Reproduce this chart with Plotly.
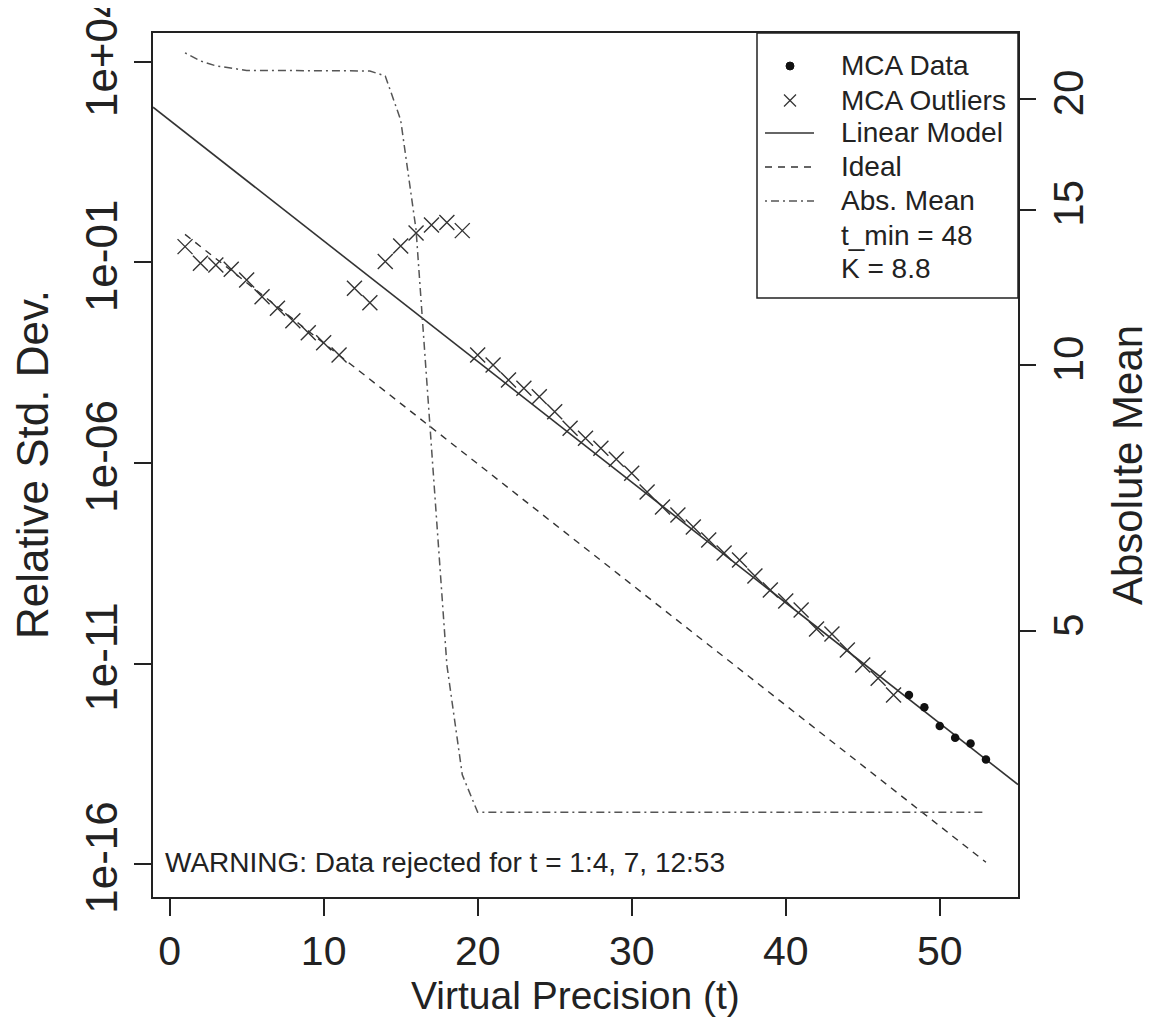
import plotly.graph_objects as go

# ---------------- data ----------------
t_outliers = list(range(1, 48))
sd_outliers = [
    2.48e-01, 9.55e-02, 8.67e-02, 6.76e-02, 3.66e-02, 1.40e-02, 7.21e-03, 3.54e-03,
    1.77e-03, 1.00e-03, 4.93e-04, 2.28e-02, 9.93e-03, 1.05e-01, 2.58e-01, 5.44e-01,
    8.61e-01, 9.84e-01, 6.21e-01, 4.93e-04, 2.78e-04, 1.17e-04, 7.29e-05, 4.50e-05,
    1.90e-05, 7.33e-06, 4.13e-06, 2.32e-06, 1.24e-06, 5.53e-07, 1.89e-07, 8.00e-08,
    5.05e-08, 2.54e-08, 1.20e-08, 5.70e-09, 3.81e-09, 1.52e-09, 6.81e-10, 3.62e-10,
    2.16e-10, 7.25e-11, 5.44e-11, 2.17e-11, 9.18e-12, 4.28e-12, 1.64e-12,
]
t_data = [48, 49, 50, 51, 52, 53]
sd_data = [1.64e-12, 8.09e-13, 2.76e-13, 1.41e-13, 1.02e-13, 4.08e-14]

t_ideal = [1, 53]
sd_ideal = [5.0e-01, 1.11e-16]

lm_log10_intercept = 2.545
lm_log10_slope = -0.3007

t_mean = list(range(1, 54))
abs_mean = [
    22.57, 22.10, 21.82, 21.70, 21.56, 21.56, 21.56, 21.56, 21.56, 21.56,
    21.56, 21.56, 21.53, 21.25, 18.95, 14.23, 8.02, 4.58, 3.44, 3.12,
    3.12, 3.12, 3.12, 3.12, 3.12, 3.12, 3.12, 3.12, 3.12, 3.12,
    3.12, 3.12, 3.12, 3.12, 3.12, 3.12, 3.12, 3.12, 3.12, 3.12,
    3.12, 3.12, 3.12, 3.12, 3.12, 3.12, 3.12, 3.12, 3.12, 3.12,
    3.12, 3.12, 3.12,
]

x_ticks = [0, 10, 20, 30, 40, 50]
y_ticks = [1e4, 1e-1, 1e-6, 1e-11, 1e-16]
y_tick_labels = ["1e+04", "1e-01", "1e-06", "1e-11", "1e-16"]
y2_ticks = [5, 10, 15, 20]

legend_labels = ["MCA Data", "MCA Outliers", "Linear Model", "Ideal", "Abs. Mean",
                 "t_min = 48", "K = 8.8"]
warning_text = "WARNING: Data rejected for t = 1:4, 7, 12:53"

# ---------------- figure ----------------
OFF = 8  # page body margin in the browser
W, H = 1151 - OFF, 1032 - OFF
# plot box in page pixels: x 153..1018, y 33..897
BOX_L, BOX_R, BOX_T, BOX_B = 153, 1018, 33, 897
L = BOX_L - OFF
T = BOX_T - OFF
R = W - (BOX_R - OFF)
B = H - (BOX_B - OFF)
FONT = "Liberation Sans, Arial, sans-serif"
INK = "#222222"

x_range = [-1.08, 55.08]
lm_t = x_range
lm_sd = [10 ** (lm_log10_intercept + lm_log10_slope * t) for t in lm_t]

fig = go.Figure()

fig.add_trace(go.Scatter(x=t_mean, y=abs_mean, mode="lines", yaxis="y2",
                         line=dict(color="#555555", width=1.5, dash="2px,4px,8px,4px"),
                         showlegend=False))
fig.add_trace(go.Scatter(x=t_ideal, y=sd_ideal, mode="lines",
                         line=dict(color="#333333", width=1.4, dash="7px,6px"),
                         showlegend=False))
fig.add_trace(go.Scatter(x=lm_t, y=lm_sd, mode="lines",
                         line=dict(color="#333333", width=1.6),
                         showlegend=False))
fig.add_trace(go.Scatter(x=t_outliers, y=sd_outliers, mode="markers",
                         marker=dict(symbol="x-thin-open", size=15, color="#333333",
                                     line=dict(color="#333333", width=1.4)),
                         showlegend=False))
fig.add_trace(go.Scatter(x=t_data, y=sd_data, mode="markers",
                         marker=dict(symbol="circle", size=8.5, color="#111111"),
                         showlegend=False))

plot_w = BOX_R - BOX_L
plot_h = BOX_B - BOX_T


def px(xp):
    """page x pixel -> paper coordinate"""
    return (xp - BOX_L) / plot_w


def py(yp):
    """page y pixel -> paper coordinate"""
    return (BOX_B - yp) / plot_h


shapes = []
annotations = []

# legend box
shapes.append(dict(type="rect", xref="paper", yref="paper",
                   x0=px(757), x1=1.0, y0=py(298), y1=1.0,
                   line=dict(color=INK, width=1.5), fillcolor="white", layer="above"))
row_y = [66, 100.5, 133, 167, 201, 235, 268]
sym_x = 790
# MCA Data dot
shapes.append(dict(type="circle", xref="paper", yref="paper",
                   x0=px(sym_x - 4), x1=px(sym_x + 4),
                   y0=py(row_y[0] + 4), y1=py(row_y[0] - 4),
                   fillcolor="#111111", line=dict(color="#111111", width=1), layer="above"))
# MCA Outliers cross
for dx in (-1, 1):
    shapes.append(dict(type="line", xref="paper", yref="paper",
                       x0=px(sym_x - 6), x1=px(sym_x + 6),
                       y0=py(row_y[1] - 6 * dx), y1=py(row_y[1] + 6 * dx),
                       line=dict(color="#333333", width=1.3), layer="above"))
# line entries
for i, dash, col in [(2, "solid", "#333333"), (3, "7px,6px", "#333333"),
                     (4, "2px,4px,8px,4px", "#555555")]:
    shapes.append(dict(type="line", xref="paper", yref="paper",
                       x0=px(765), x1=px(814), y0=py(row_y[i]), y1=py(row_y[i]),
                       line=dict(color=col, width=1.5, dash=dash), layer="above"))
for lab, yy in zip(legend_labels, row_y):
    annotations.append(dict(text=lab, xref="paper", yref="paper", x=px(839), y=py(yy),
                            xanchor="left", yanchor="middle", showarrow=False,
                            font=dict(family=FONT, size=28, color=INK)))

annotations.append(dict(text=warning_text, xref="paper", yref="paper", x=px(163), y=py(862),
                        xanchor="left", yanchor="middle", showarrow=False,
                        font=dict(family=FONT, size=28, color=INK)))

# axis titles
annotations.append(dict(text="Virtual Precision (t)", xref="paper", yref="paper",
                        x=px(575), y=py(996), xanchor="center", yanchor="middle",
                        showarrow=False, font=dict(family=FONT, size=39, color=INK)))
annotations.append(dict(text="Relative Std. Dev.", xref="paper", yref="paper",
                        x=px(32), y=0.5, xanchor="center", yanchor="middle", textangle=-90,
                        showarrow=False, font=dict(family=FONT, size=44, color=INK)))
annotations.append(dict(text="Absolute Mean", xref="paper", yref="paper",
                        x=px(1127), y=0.5, xanchor="center", yanchor="middle", textangle=-90,
                        showarrow=False, font=dict(family=FONT, size=42, color=INK)))

axis_common = dict(showgrid=False, zeroline=False, ticks="outside", ticklen=17,
                   tickwidth=1.5, tickcolor=INK, ticklabeloverflow="allow",
                   automargin=False)

fig.update_layout(
    width=W, height=H,
    margin=dict(l=L, r=R, t=T, b=B, pad=0, autoexpand=False),
    paper_bgcolor="white", plot_bgcolor="white",
    showlegend=False,
    xaxis=dict(range=x_range, tickvals=x_ticks, showline=True, mirror=True,
               linecolor=INK, linewidth=1.5,
               tickfont=dict(family=FONT, size=41, color=INK), **axis_common),
    yaxis=dict(type="log", range=[-16.82, 4.72], tickvals=y_ticks, ticktext=y_tick_labels,
               tickangle=-90, showline=True, mirror=True, linecolor=INK, linewidth=1.5,
               tickfont=dict(family=FONT, size=44, color=INK), **axis_common),
    yaxis2=dict(type="log", range=[0.3983, 1.376], overlaying="y", side="right",
                tickvals=y2_ticks, ticktext=[str(v) for v in y2_ticks], tickangle=-90,
                showline=False, ticklabelstandoff=-3,
                tickfont=dict(family=FONT, size=42, color=INK), **axis_common),
    shapes=shapes,
    annotations=annotations,
)

fig.write_html("out.html")
